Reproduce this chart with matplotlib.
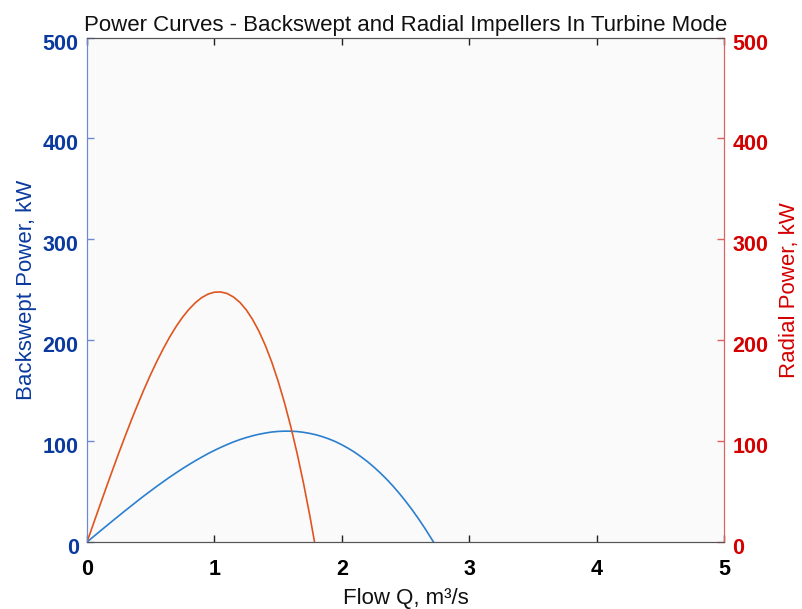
import matplotlib
matplotlib.use("Agg")
import matplotlib.pyplot as plt
import matplotlib.transforms as mtransforms

plt.rcParams['font.family'] = ['Liberation Sans', 'DejaVu Sans']

flow_radial = [0.0, 0.05, 0.1, 0.15, 0.2, 0.25, 0.3, 0.35, 0.4, 0.45, 0.5, 0.55, 0.6, 0.65, 0.7, 0.75, 0.8, 0.85,
               0.9, 0.95, 1.0, 1.05, 1.1, 1.15, 1.2, 1.25, 1.3, 1.35, 1.4, 1.45, 1.5, 1.55, 1.6, 1.65, 1.7, 1.75, 1.786]
power_radial = [0.0, 18.0, 35.9, 53.7, 71.2, 88.4, 105.1, 121.4, 137.0, 152.0, 166.2, 179.5, 191.9, 203.4, 213.7,
                222.8, 230.6, 237.1, 242.2, 245.7, 247.6, 247.8, 246.3, 242.8, 237.5, 230.1, 220.5, 208.8, 194.8,
                178.4, 159.5, 138.1, 114.1, 87.4, 57.9, 25.4, 0.0]

flow_back = [0.0, 0.05, 0.1, 0.15, 0.2, 0.25, 0.3, 0.35, 0.4, 0.45, 0.5, 0.55, 0.6, 0.65, 0.7, 0.75, 0.8, 0.85, 0.9,
             0.95, 1.0, 1.05, 1.1, 1.15, 1.2, 1.25, 1.3, 1.35, 1.4, 1.45, 1.5, 1.55, 1.6, 1.65, 1.7, 1.75, 1.8, 1.85,
             1.9, 1.95, 2.0, 2.05, 2.1, 2.15, 2.2, 2.25, 2.3, 2.35, 2.4, 2.45, 2.5, 2.55, 2.6, 2.65, 2.7, 2.72]
power_back = [0.0, 5.25, 10.5, 15.7, 20.9, 26.0, 31.1, 36.1, 41.1, 46.0, 50.7, 55.4, 59.9, 64.4, 68.6, 72.8, 76.7,
              80.5, 84.1, 87.6, 90.8, 93.8, 96.6, 99.2, 101.5, 103.5, 105.3, 106.8, 108.0, 109.0, 109.6, 109.9,
              109.8, 109.5, 108.7, 107.6, 106.2, 104.3, 102.1, 99.5, 96.4, 92.9, 89.0, 84.6, 79.8, 74.5, 68.7,
              62.5, 55.7, 48.4, 40.6, 32.3, 23.4, 14.0, 4.0, 0.0]

x_ticks = [0, 1, 2, 3, 4, 5]
y_ticks = [0, 100, 200, 300, 400, 500]

title = "Power Curves - Backswept and Radial Impellers In Turbine Mode"
xlabel = "Flow Q, m\u00b3/s"
ylabel_left = "Backswept Power, kW"
ylabel_right = "Radial Power, kW"

left_color = "#0a3a9e"
right_color = "#d40000"
blue_line = "#2a7fcf"
red_line = "#e0541e"

fig = plt.figure(figsize=(8.02, 6.09), dpi=100)
ax = fig.add_axes([0.1085, 0.110, 0.7942, 0.8284])
ax.set_facecolor("#fafafa")
ax2 = ax.twinx()

ax.plot(flow_back, power_back, color=blue_line, lw=1.2, solid_joinstyle='round')
ax2.plot(flow_radial, power_radial, color=red_line, lw=1.2, solid_joinstyle='round')

ax.set_xlim(0, 5)
ax.set_ylim(0, 500)
ax2.set_ylim(0, 500)
ax.set_xticks(x_ticks)
ax.set_yticks(y_ticks)
ax2.set_yticks(y_ticks)

fs_tick = 15.5
ax.tick_params(axis='x', direction='in', top=True, length=5, width=1, colors='#222222', labelsize=fs_tick, pad=12)
for lab in ax.get_xticklabels():
    lab.set_fontweight('bold')
    lab.set_color('black')
ax.tick_params(axis='y', direction='in', length=5, width=1, colors='#6a8ad6', labelcolor=left_color, labelsize=fs_tick, pad=6)
ax2.tick_params(axis='y', direction='in', length=5, width=1, colors='#e06060', labelcolor=right_color, labelsize=fs_tick, pad=6)

shift = mtransforms.ScaledTranslation(0, -4 / 100, fig.dpi_scale_trans)
for lab in ax.get_yticklabels() + ax2.get_yticklabels():
    lab.set_fontweight('bold')
    lab.set_transform(lab.get_transform() + shift)

for a in (ax, ax2):
    a.spines['top'].set_color('#555555')
    a.spines['bottom'].set_color('#555555')
    a.spines['left'].set_color('#6a8ad6')
    a.spines['right'].set_color('#e06060')

ax.set_xlabel(xlabel, fontsize=16, color='#111111', labelpad=6)
ax.set_ylabel(ylabel_left, fontsize=16, color=left_color, labelpad=4)
ax2.set_ylabel(ylabel_right, fontsize=16, color=right_color, labelpad=8)
ax.set_title(title, fontsize=16, color='#111111', pad=5)

fig.savefig("out.png", dpi=100, facecolor="white")
